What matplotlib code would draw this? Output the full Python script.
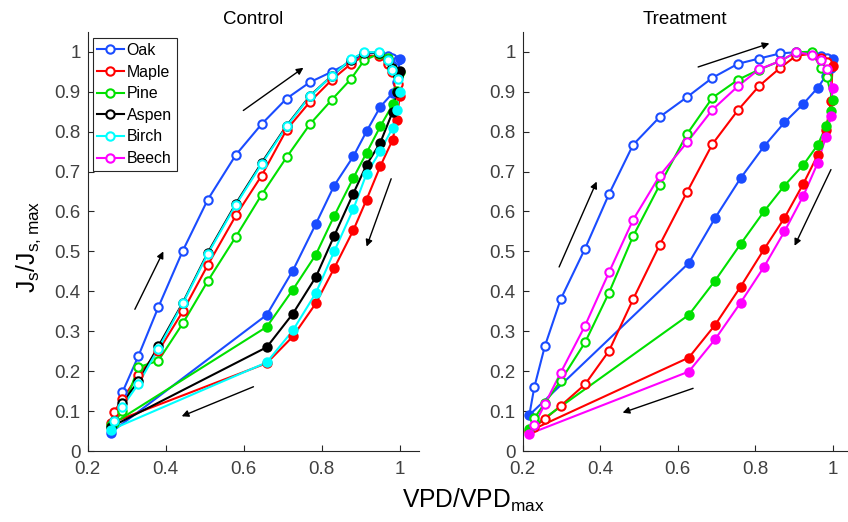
import matplotlib
matplotlib.use('Agg')
from matplotlib import pyplot as plt
from matplotlib.lines import Line2D

plt.rcParams['font.family'] = ['Liberation Sans', 'DejaVu Sans']
plt.rcParams['mathtext.default'] = 'regular'

# ---- Control (VPD shared by all species) ----
ctrl_vpd_up = [0.267, 0.289, 0.33, 0.381, 0.444, 0.508, 0.58, 0.646, 0.71, 0.77,
               0.826, 0.875, 0.909, 0.947, 0.971, 0.981, 0.996]
ctrl_vpd_down = [1.0, 0.992, 0.982, 0.95, 0.915, 0.881, 0.832, 0.785, 0.726, 0.659, 0.259]

ctrl_oak_up = [0.075, 0.147, 0.238, 0.360, 0.502, 0.630, 0.742, 0.819, 0.883, 0.924,
               0.950, 0.975, 0.995, 0.998, 0.99, 0.985, 0.98]
ctrl_oak_down = [0.981, 0.925, 0.897, 0.862, 0.801, 0.738, 0.665, 0.569, 0.452, 0.341, 0.046]

ctrl_maple_up = [0.097, 0.13, 0.19, 0.25, 0.35, 0.466, 0.59, 0.69, 0.805, 0.875,
                 0.93, 0.97, 0.99, 0.99, 0.97, 0.95, 0.92]
ctrl_maple_down = [0.889, 0.83, 0.78, 0.713, 0.63, 0.553, 0.458, 0.370, 0.287, 0.22, 0.07]

ctrl_pine_up = [0.07, 0.10, 0.21, 0.226, 0.32, 0.426, 0.537, 0.642, 0.736, 0.819,
                0.880, 0.932, 0.979, 0.995, 0.985, 0.96, 0.94]
ctrl_pine_down = [0.95, 0.901, 0.868, 0.813, 0.747, 0.684, 0.589, 0.492, 0.404, 0.311, 0.065]

ctrl_aspen_up = [0.075, 0.12, 0.175, 0.262, 0.372, 0.497, 0.62, 0.722, 0.815, 0.89,
                 0.94, 0.98, 0.998, 0.998, 0.98, 0.96, 0.94]
ctrl_aspen_down = [0.951, 0.90, 0.85, 0.772, 0.717, 0.645, 0.539, 0.436, 0.344, 0.260, 0.06]

ctrl_birch_up = [0.076, 0.111, 0.168, 0.256, 0.370, 0.494, 0.617, 0.719, 0.813, 0.889,
                 0.94, 0.981, 0.999, 0.999, 0.979, 0.954, 0.932]
ctrl_birch_down = [0.90, 0.855, 0.81, 0.751, 0.695, 0.606, 0.50, 0.396, 0.302, 0.222, 0.053]

# ---- Treatment ----
trt_vpd_up = [0.23, 0.257, 0.298, 0.361, 0.423, 0.485, 0.554, 0.625, 0.69, 0.756,
              0.81, 0.865, 0.906, 0.946, 0.97, 0.985]
trt_vpd_down = [1.0, 0.996, 0.983, 0.962, 0.925, 0.876, 0.823, 0.763, 0.697, 0.629, 0.217]

trt_oak_up = [0.16, 0.262, 0.380, 0.507, 0.644, 0.767, 0.837, 0.887, 0.935, 0.97,
              0.983, 0.996, 0.999, 0.996, 0.99, 0.985]
trt_oak_down = [0.981, 0.96, 0.94, 0.91, 0.870, 0.823, 0.763, 0.684, 0.584, 0.471, 0.09]

trt_maple_up = [0.06, 0.080, 0.113, 0.167, 0.251, 0.380, 0.517, 0.650, 0.769, 0.854,
                0.914, 0.96, 0.99, 0.995, 0.985, 0.975]
trt_maple_down = [0.964, 0.876, 0.805, 0.742, 0.670, 0.584, 0.505, 0.412, 0.316, 0.234, 0.05]

trt_pine_up = [0.082, 0.12, 0.176, 0.272, 0.397, 0.538, 0.667, 0.795, 0.885, 0.93,
               0.955, 0.977, 0.999, 1.0, 0.96, 0.937]
trt_pine_down = [0.88, 0.851, 0.813, 0.767, 0.717, 0.665, 0.60, 0.519, 0.427, 0.341, 0.055]

trt_beech_up = [0.065, 0.117, 0.196, 0.314, 0.448, 0.579, 0.69, 0.774, 0.855, 0.914,
                0.956, 0.977, 0.999, 0.993, 0.979, 0.957]
trt_beech_down = [0.91, 0.84, 0.787, 0.722, 0.64, 0.55, 0.461, 0.372, 0.28, 0.199, 0.043]

species = ['Oak', 'Maple', 'Pine', 'Aspen', 'Birch', 'Beech']
colors = {'Oak': '#1a4cff', 'Maple': '#ff0000', 'Pine': '#00e000',
          'Aspen': '#000000', 'Birch': '#00ffff', 'Beech': '#ff00ff'}

ctrl_data = [('Oak', ctrl_oak_up, ctrl_oak_down),
             ('Maple', ctrl_maple_up, ctrl_maple_down),
             ('Pine', ctrl_pine_up, ctrl_pine_down),
             ('Aspen', ctrl_aspen_up, ctrl_aspen_down),
             ('Birch', ctrl_birch_up, ctrl_birch_down)]
trt_data = [('Oak', trt_oak_up, trt_oak_down),
            ('Maple', trt_maple_up, trt_maple_down),
            ('Pine', trt_pine_up, trt_pine_down),
            ('Beech', trt_beech_up, trt_beech_down)]

# arrows (tail, head) in data coords
ctrl_arrows = [((0.321, 0.355), (0.394, 0.50)), ((0.599, 0.853), (0.753, 0.960)),
               ((0.978, 0.682), (0.915, 0.512)), ((0.625, 0.161), (0.441, 0.087))]
trt_arrows = [((0.294, 0.461), (0.391, 0.675)), ((0.653, 0.962), (0.837, 1.021)),
              ((0.996, 0.705), (0.902, 0.514)), ((0.64, 0.157), (0.458, 0.096))]

MS = 6
MEW = 1.5
LW = 1.5


def draw_loop(ax, xu, yu, xd, yd, c):
    xs = list(xu) + list(xd) + [xu[0]]
    ys = list(yu) + list(yd) + [yu[0]]
    ax.plot(xs, ys, '-', color=c, lw=LW, zorder=2)
    ax.plot(xu, yu, 'o', ms=MS, mew=MEW, mec=c, mfc='white', zorder=3)
    ax.plot(xd, yd, 'o', ms=MS, mew=MEW, mec=c, mfc=c, zorder=3)


def style_axes(ax, xmax, title):
    ax.set_xlim(0.2, xmax)
    ax.set_ylim(0, 1.05)
    ax.set_xticks([0.2, 0.4, 0.6, 0.8, 1.0])
    ax.set_xticklabels(['0.2', '0.4', '0.6', '0.8', '1'])
    yt = [i / 10 for i in range(11)]
    ax.set_yticks(yt)
    ax.set_yticklabels(['0'] + ['%.1f' % v for v in yt[1:-1]] + ['1'])
    for s in ['top', 'right']:
        ax.spines[s].set_visible(False)
    for s in ['left', 'bottom']:
        ax.spines[s].set_color('#262626')
        ax.spines[s].set_linewidth(0.8)
    ax.tick_params(direction='in', length=4, width=0.8, color='#262626',
                   labelcolor='#404040', labelsize=13.5)
    ax.tick_params(axis='x', pad=7)
    ax.tick_params(axis='y', pad=5)
    ax.set_title(title, fontsize=13.5, pad=6)


def draw_arrows(ax, arrows):
    for tail, head in arrows:
        ax.annotate('', xy=head, xytext=tail,
                    arrowprops=dict(arrowstyle='-|>', color='black', lw=1.0,
                                    mutation_scale=10, shrinkA=0, shrinkB=0))


fig = plt.figure(figsize=(8.48, 5.22), dpi=100)
ax1 = fig.add_axes([0.1034, 0.136, 0.391, 0.803])
ax2 = fig.add_axes([0.6164, 0.136, 0.3836, 0.803])

for name, yu, yd in ctrl_data:
    draw_loop(ax1, ctrl_vpd_up, yu, ctrl_vpd_down, yd, colors[name])
for name, yu, yd in trt_data:
    draw_loop(ax2, trt_vpd_up, yu, trt_vpd_down, yd, colors[name])

style_axes(ax1, 1.05, 'Control')
style_axes(ax2, 1.04, 'Treatment')
draw_arrows(ax1, ctrl_arrows)
draw_arrows(ax2, trt_arrows)

handles = [Line2D([], [], color=colors[s], lw=LW, marker='o', ms=MS, mew=MEW,
                  mec=colors[s], mfc='white') for s in species]
leg = ax1.legend(handles, species, loc='upper left', bbox_to_anchor=(0.015, 0.985),
                 fontsize=11.4, frameon=True, fancybox=False, framealpha=1,
                 edgecolor='#262626', handlelength=1.65, handletextpad=0.2,
                 labelspacing=0.42, borderpad=0.3, borderaxespad=0)
leg.get_frame().set_linewidth(0.8)

fig.text(0.558, 0.0268, r'VPD/VPD$_{max}$', ha='center', va='baseline', fontsize=17.7)
fig.text(15 / 848, 1 - 247 / 522, r'J$_s$/J$_{s,max}$', rotation=90, ha='left',
         va='center', fontsize=17.7)

fig.savefig('out.png', dpi=100)
